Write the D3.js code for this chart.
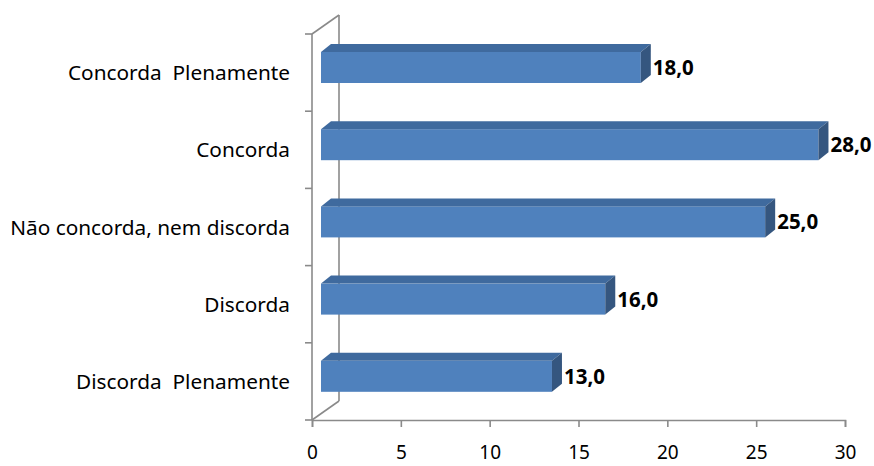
<!DOCTYPE html>
<html>
<head>
<meta charset="utf-8">
<script src="https://cdn.jsdelivr.net/npm/d3@7"></script>
<style>
  html, body { margin: 0; padding: 0; background: #fff; }
  svg { display: block; }
  text { font-family: "Noto Sans", "Open Sans", sans-serif; }
</style>
</head>
<body>
<svg id="chart" width="874" height="466"></svg>
<script>
const categories = ["Concorda  Plenamente", "Concorda", "Não concorda, nem discorda", "Discorda", "Discorda  Plenamente"];
const values = [18.0, 28.0, 25.0, 16.0, 13.0];
const valueLabels = ["18,0", "28,0", "25,0", "16,0", "13,0"];
const xTicks = [0, 5, 10, 15, 20, 25, 30];

const svg = d3.select("#chart");
const x = d3.scaleLinear().domain([0, 30]).range([312, 845]);
const y = d3.scaleBand().domain(categories).range([34, 420]).padding(0);

const depthX = 27, depthY = -19;   // wall depth
const barDX = 10, barDY = -8;      // bar depth
const barOff = 9;                   // bar sits inside depth
const gray = "#8a8a8a";

// walls / axes
const g = svg.append("g");
g.append("line").attr("x1", x(0)).attr("x2", x(0)).attr("y1", y.range()[0]).attr("y2", y.range()[1])
  .attr("stroke", gray).attr("stroke-width", 1.6);
g.append("line").attr("x1", x(0) + depthX).attr("x2", x(0) + depthX)
  .attr("y1", y.range()[0] + depthY).attr("y2", y.range()[1] + depthY)
  .attr("stroke", gray).attr("stroke-width", 1.6);
g.append("line").attr("x1", x(0)).attr("y1", y.range()[0]).attr("x2", x(0) + depthX).attr("y2", y.range()[0] + depthY)
  .attr("stroke", gray).attr("stroke-width", 1.6);
g.append("line").attr("x1", x(0)).attr("y1", y.range()[1]).attr("x2", x(0) + depthX).attr("y2", y.range()[1] + depthY)
  .attr("stroke", gray).attr("stroke-width", 1.6);

// category ticks
const bounds = categories.map(c => y(c)).concat([y.range()[1]]);
g.selectAll("line.ct").data(bounds).enter().append("line")
  .attr("x1", x(0) - 7).attr("x2", x(0)).attr("y1", d => d).attr("y2", d => d)
  .attr("stroke", gray).attr("stroke-width", 1.6);

// x axis
const xAxis = d3.axisBottom(x).tickValues(xTicks).tickSize(7).tickFormat(d3.format("d"));
const ax = svg.append("g").attr("transform", `translate(0,${y.range()[1]})`).call(xAxis);
ax.select(".domain").attr("stroke", gray).attr("stroke-width", 1.6);
ax.selectAll(".tick line").attr("stroke", gray).attr("stroke-width", 1.6);
ax.selectAll(".tick text").attr("fill", "#000").attr("font-size", 19)
  .attr("y", 39).attr("dy", 0)
  .style("font-family", "'Noto Sans', sans-serif");

// category labels
svg.selectAll("text.cat").data(categories).enter().append("text")
  .attr("class", "cat")
  .attr("x", 290).attr("y", d => y(d) + y.bandwidth() / 2 + 2)
  .attr("text-anchor", "end").attr("dominant-baseline", "middle")
  .attr("font-size", 20.8).attr("fill", "#000")
  .attr("xml:space", "preserve").style("white-space", "pre")
  .text(d => d);

// bars
const barH = 31, barTop = 18;
const bars = svg.selectAll("g.bar").data(categories.map((c, i) => ({c, v: values[i], lab: valueLabels[i]})))
  .enter().append("g").attr("class", "bar");

bars.each(function(d) {
  const gb = d3.select(this);
  const x0 = x(0) + barOff, x1 = x(d.v) + barOff;
  const yt = y(d.c) + barTop, yb = yt + barH;
  gb.append("rect").attr("x", x0).attr("y", yt).attr("width", x1 - x0).attr("height", barH)
    .attr("fill", "#4F81BD");
  gb.append("polygon")
    .attr("points", [[x0, yt], [x0 + barDX, yt + barDY], [x1 + barDX, yt + barDY], [x1, yt]].map(p => p.join(",")).join(" "))
    .attr("fill", "#3F6A9E");
  gb.append("polygon")
    .attr("points", [[x1, yt], [x1 + barDX, yt + barDY], [x1 + barDX, yb + barDY], [x1, yb]].map(p => p.join(",")).join(" "))
    .attr("fill", "#35567F");
  gb.append("text")
    .attr("x", x1 + barDX + 2).attr("y", (yt + yb) / 2 + 2)
    .attr("dominant-baseline", "middle")
    .attr("font-size", 20.5).attr("font-weight", "bold").attr("fill", "#000")
    .text(d.lab);
});
</script>
</body>
</html>
